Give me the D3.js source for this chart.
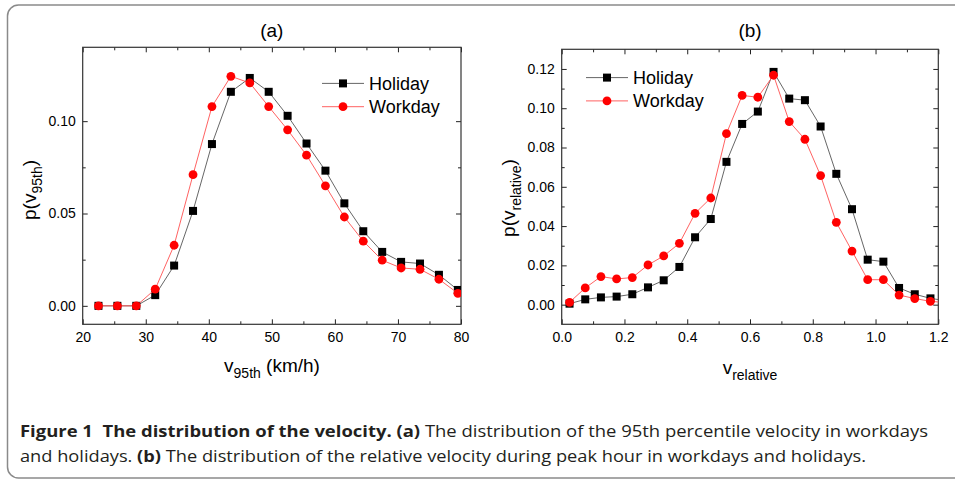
<!DOCTYPE html>
<html>
<head>
<meta charset="utf-8">
<script src="https://cdn.jsdelivr.net/npm/d3@7"></script>
<style>
  html, body { margin: 0; padding: 0; background: #fff; }
  svg { display: block; }
</style>
</head>
<body>
<svg id="chart" width="955" height="482"></svg>
<script>
// ---------------- data ----------------
const v95Bins = [22.5, 25.5, 28.5, 31.5, 34.5, 37.5, 40.5, 43.5, 46.5, 49.5,
                 52.5, 55.5, 58.5, 61.5, 64.5, 67.5, 70.5, 73.5, 76.5, 79.5];
const v95Holiday = [0, 0, 0, 0.0058, 0.0218, 0.0514, 0.0876, 0.1159, 0.1234, 0.1159,
                    0.1029, 0.0879, 0.0732, 0.0555, 0.0404, 0.0292, 0.0238, 0.0229, 0.0168, 0.0086];
const v95Workday = [0, 0, 0, 0.0090, 0.0328, 0.0710, 0.1079, 0.1243, 0.1207, 0.1079,
                    0.0953, 0.0816, 0.0650, 0.0481, 0.0350, 0.0247, 0.0205, 0.0198, 0.0144, 0.0068];

const vrelBins = [0.025, 0.075, 0.125, 0.175, 0.225, 0.275, 0.325, 0.375, 0.425, 0.475,
                  0.525, 0.575, 0.625, 0.675, 0.725, 0.775, 0.825, 0.875, 0.925, 0.975,
                  1.025, 1.075, 1.125, 1.175, 1.225];
const vrelHoliday = [0.0005, 0.0027, 0.0037, 0.0041, 0.0053, 0.0088, 0.0124, 0.0192, 0.0343, 0.0436,
                     0.0727, 0.0920, 0.0983, 0.1185, 0.1049, 0.1041, 0.0907, 0.0666, 0.0486, 0.0229,
                     0.0219, 0.0085, 0.0053, 0.0032, 0.0020];
const vrelWorkday = [0.0012, 0.0085, 0.0143, 0.0131, 0.0138, 0.0202, 0.0248, 0.0312, 0.0465, 0.0543,
                     0.0871, 0.1065, 0.1056, 0.1168, 0.0932, 0.0842, 0.0657, 0.0419, 0.0273, 0.0127,
                     0.0127, 0.0049, 0.0031, 0.0017, 0.0010];

const seriesNames = ["Holiday", "Workday"];
const ticksA_x = [20, 30, 40, 50, 60, 70, 80];
const ticksA_y = [0.00, 0.05, 0.10];
const ticksB_x = [0.0, 0.2, 0.4, 0.6, 0.8, 1.0, 1.2];
const ticksB_y = [0.00, 0.02, 0.04, 0.06, 0.08, 0.10, 0.12];
const captionLine1 = ["Figure 1  The distribution of the velocity. ", "(a)", " The distribution of the 95th percentile velocity in workdays"];
const captionLine2 = ["and holidays. ", "(b)", " The distribution of the relative velocity during peak hour in workdays and holidays."];

// ---------------- drawing ----------------
const svg = d3.select("#chart");
const FONT = "'Liberation Sans', Arial, sans-serif";

// outer rounded border
svg.append("rect")
  .attr("x", 7.5).attr("y", 5).attr("width", 970).attr("height", 473)
  .attr("rx", 11).attr("ry", 11)
  .attr("fill", "none").attr("stroke", "#8a8a8a").attr("stroke-width", 1.5);

function panel(opts) {
  const g = svg.append("g");
  const x = d3.scaleLinear().domain(opts.xDomain).range([opts.left, opts.right]);
  const y = d3.scaleLinear().domain(opts.yDomain).range([opts.bottom, opts.top]);

  const clipId = "clip" + opts.id;
  svg.append("clipPath").attr("id", clipId).append("rect")
    .attr("x", opts.left).attr("y", opts.top)
    .attr("width", opts.right - opts.left).attr("height", opts.bottom - opts.top);

  const styleAxis = (sel) => {
    sel.select(".domain").remove();
    sel.selectAll(".tick line").attr("stroke", "#222").attr("stroke-width", 1);
    sel.selectAll(".tick text").attr("font-family", FONT).attr("font-size", 14).attr("fill", "#000");
  };

  const minorX = d3.range(opts.xTicks.length - 1).map(i => (opts.xTicks[i] + opts.xTicks[i + 1]) / 2);
  const minorY = d3.range(opts.yTicks.length - 1).map(i => (opts.yTicks[i] + opts.yTicks[i + 1]) / 2);

  // bottom
  g.append("g").attr("transform", `translate(0,${opts.bottom})`)
    .call(d3.axisBottom(x).tickValues(opts.xTicks).tickSize(-5).tickPadding(8).tickFormat(opts.xFmt))
    .call(styleAxis);
  g.append("g").attr("transform", `translate(0,${opts.bottom})`)
    .call(d3.axisBottom(x).tickValues(minorX).tickSize(-3).tickFormat(""))
    .call(styleAxis);
  // top
  g.append("g").attr("transform", `translate(0,${opts.top})`)
    .call(d3.axisTop(x).tickValues(opts.xTicks).tickSize(-5).tickFormat(""))
    .call(styleAxis);
  g.append("g").attr("transform", `translate(0,${opts.top})`)
    .call(d3.axisTop(x).tickValues(minorX).tickSize(-3).tickFormat(""))
    .call(styleAxis);
  // left
  g.append("g").attr("transform", `translate(${opts.left},0)`)
    .call(d3.axisLeft(y).tickValues(opts.yTicks).tickSize(-5).tickPadding(7).tickFormat(d3.format(".2f")))
    .call(styleAxis);
  g.append("g").attr("transform", `translate(${opts.left},0)`)
    .call(d3.axisLeft(y).tickValues(minorY).tickSize(-3).tickFormat(""))
    .call(styleAxis);
  // right
  g.append("g").attr("transform", `translate(${opts.right},0)`)
    .call(d3.axisRight(y).tickValues(opts.yTicks).tickSize(-5).tickFormat(""))
    .call(styleAxis);
  g.append("g").attr("transform", `translate(${opts.right},0)`)
    .call(d3.axisRight(y).tickValues(minorY).tickSize(-3).tickFormat(""))
    .call(styleAxis);

  // frame
  g.append("rect")
    .attr("x", opts.left).attr("y", opts.top)
    .attr("width", opts.right - opts.left).attr("height", opts.bottom - opts.top)
    .attr("fill", "none").attr("stroke", "#333").attr("stroke-width", 1.2);

  const line = d3.line().x(d => x(d[0])).y(d => y(d[1]));
  const plot = g.append("g").attr("clip-path", `url(#${clipId})`);

  const hol = opts.bins.map((b, i) => [b, opts.holiday[i]]);
  const wrk = opts.bins.map((b, i) => [b, opts.workday[i]]);

  plot.append("path").datum(hol).attr("d", line)
    .attr("fill", "none").attr("stroke", "#555").attr("stroke-width", 0.9);
  plot.selectAll("rect.hol").data(hol).join("rect").attr("class", "hol")
    .attr("x", d => x(d[0]) - 4).attr("y", d => y(d[1]) - 4)
    .attr("width", 8).attr("height", 8).attr("fill", "#000");

  plot.append("path").datum(wrk).attr("d", line)
    .attr("fill", "none").attr("stroke", "#ff5050").attr("stroke-width", 0.9);
  plot.selectAll("circle.wrk").data(wrk).join("circle").attr("class", "wrk")
    .attr("cx", d => x(d[0])).attr("cy", d => y(d[1])).attr("r", 4.4).attr("fill", "#ff0000");

  // legend
  const lg = g.append("g");
  seriesNames.forEach((name, i) => {
    const ly = opts.legY + i * 23.3;
    const lx = opts.legX;
    lg.append("line").attr("x1", lx).attr("x2", lx + 42).attr("y1", ly).attr("y2", ly)
      .attr("stroke", i === 0 ? "#555" : "#ff5050").attr("stroke-width", 0.9);
    if (i === 0) {
      lg.append("rect").attr("x", lx + 21 - 4).attr("y", ly - 4).attr("width", 8).attr("height", 8).attr("fill", "#000");
    } else {
      lg.append("circle").attr("cx", lx + 21).attr("cy", ly).attr("r", 4.4).attr("fill", "#ff0000");
    }
    lg.append("text").attr("x", lx + 47).attr("y", ly).attr("dy", "0.36em")
      .attr("font-family", FONT).attr("font-size", 18).attr("fill", "#000").text(name);
  });

  // panel title
  g.append("text").attr("x", (opts.left + opts.right) / 2).attr("y", 30).attr("dy", "0.35em")
    .attr("text-anchor", "middle").attr("font-family", FONT).attr("font-size", 19)
    .text(opts.title);

  // x axis title
  const xt = g.append("text").attr("x", opts.xTitleX).attr("y", opts.xTitleY)
    .attr("text-anchor", "middle").attr("font-family", FONT).attr("font-size", 19);
  xt.append("tspan").text("v");
  xt.append("tspan").attr("font-size", 14).attr("dy", 6).text(opts.sub);
  if (opts.xUnit) xt.append("tspan").attr("dy", -6).text(opts.xUnit);

  // y axis title
  const yt = g.append("text")
    .attr("transform", `translate(${opts.yTitleX},${opts.yTitleY}) rotate(-90)`)
    .attr("text-anchor", "middle").attr("font-family", FONT).attr("font-size", 19);
  yt.append("tspan").text("p(v");
  yt.append("tspan").attr("font-size", 14).attr("dy", 6).text(opts.sub);
  yt.append("tspan").attr("dy", -6).text(")");
}

panel({
  id: "a", title: "(a)",
  left: 82.7, right: 461, top: 47.3, bottom: 324.3,
  xDomain: [20, 80], yDomain: [-0.01, 0.14],
  xTicks: ticksA_x, yTicks: ticksA_y, xFmt: d3.format("d"),
  bins: v95Bins, holiday: v95Holiday, workday: v95Workday,
  legX: 322, legY: 83.4,
  sub: "95th", xUnit: " (km/h)", xTitleX: 272, xTitleY: 372,
  yTitleX: 36, yTitleY: 190
});

panel({
  id: "b", title: "(b)",
  left: 561.7, right: 938.3, top: 49.3, bottom: 324.3,
  xDomain: [0, 1.2], yDomain: [-0.01, 0.13],
  xTicks: ticksB_x, yTicks: ticksB_y, xFmt: d3.format(".1f"),
  bins: vrelBins, holiday: vrelHoliday, workday: vrelWorkday,
  legX: 586, legY: 77.6,
  sub: "relative", xUnit: null, xTitleX: 750, xTitleY: 374,
  yTitleX: 515, yTitleY: 198
});

// caption
const CAPFONT = "'Open Sans', 'Noto Sans', sans-serif";
function captionLine(parts, yPos, width) {
  const t = svg.append("text").attr("x", 20).attr("y", yPos)
    .attr("font-family", CAPFONT).attr("font-size", 16).attr("fill", "#231f20")
    .attr("textLength", width).attr("lengthAdjust", "spacingAndGlyphs")
    .attr("xml:space", "preserve").style("white-space", "pre");
  parts.forEach((p, i) => {
    t.append("tspan").attr("font-weight", (i === 1 || (i === 0 && parts === captionLine1)) ? "bold" : "normal").text(p);
  });
}
captionLine(captionLine1, 437, 908);
captionLine(captionLine2, 462, 846);
</script>
</body>
</html>
